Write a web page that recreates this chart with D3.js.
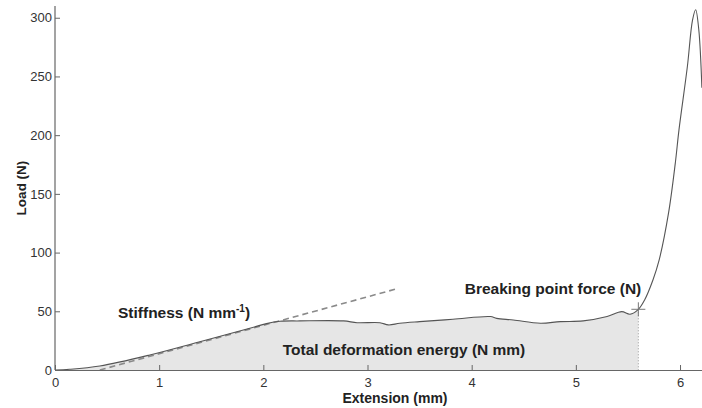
<!DOCTYPE html>
<html>
<head>
<meta charset="utf-8">
<script src="https://cdn.jsdelivr.net/npm/d3@7"></script>
<style>
  body { margin: 0; background: #fff; }
  svg { display: block; font-family: Arial, "Liberation Sans", sans-serif; }
</style>
</head>
<body>
<svg id="chart" width="702" height="408"></svg>
<script>

// load-extension curve
const extension = [0, 0.14, 0.43, 0.91, 1.39, 1.87, 2.03, 2.16, 2.35, 2.77, 2.90, 3.12, 3.20, 3.31, 3.50,
    3.82, 4.18, 4.24, 4.40, 4.66, 4.85, 5.07, 5.30, 5.44, 5.52, 5.60,
    5.66, 5.74, 5.80, 5.89, 5.955, 5.99, 6.07, 6.12, 6.15, 6.18, 6.21];
const load = [0, 0.6, 3.4, 12.8, 24.1, 35.5, 39.5, 41.5, 41.8, 41.8, 40.3, 40.3, 38.4, 39.8, 41.2,
    43.2, 45.5, 44, 42.6, 39.8, 41.2, 41.8, 45.5, 49.7, 47.5, 51.7,
    59.7, 76.7, 93.8, 133.8, 176.4, 204.5, 258, 298, 306.8, 290, 240.3];

const breakPoint = {extension: 5.60, load: 51.7};
const stiffnessLine = [{extension: 0.43, load: 0}, {extension: 3.30, load: 69.6}];

const xTicks = [0, 1, 2, 3, 4, 5, 6];
const yTicks = [0, 50, 100, 150, 200, 250, 300];

const curve = extension.map((e, i) => ({extension: e, load: load[i]}));

const svg = d3.select('#chart');
const margin = {left: 55, right: 0, top: 6, bottom: 38};
const width = 702;
const height = 408;

const x = d3.scaleLinear().domain([0, 6.211]).range([margin.left, width - margin.right]);
const y = d3.scaleLinear().domain([0, 310]).range([height - margin.bottom, margin.top]);

svg.append('defs').append('clipPath').attr('id', 'plot-clip')
    .append('rect')
    .attr('x', margin.left).attr('y', margin.top)
    .attr('width', width - margin.left).attr('height', height - margin.bottom - margin.top);

const plot = svg.append('g').attr('clip-path', 'url(#plot-clip)');

// energy area up to the breaking point
const areaData = curve.filter(d => d.extension <= breakPoint.extension);

plot.append('path')
    .datum(areaData)
    .attr('fill', '#e6e6e6')
    .attr('d', d3.area()
        .curve(d3.curveCatmullRom.alpha(0.5))
        .x(d => x(d.extension))
        .y0(y(0))
        .y1(d => y(d.load)));

plot.append('line')
    .attr('x1', x(breakPoint.extension)).attr('x2', x(breakPoint.extension))
    .attr('y1', y(breakPoint.load)).attr('y2', y(0))
    .attr('stroke', '#999')
    .attr('stroke-width', 1)
    .attr('stroke-dasharray', '1,2');

plot.append('path')
    .datum(stiffnessLine)
    .attr('fill', 'none')
    .attr('stroke', '#8a8a8a')
    .attr('stroke-width', 1.6)
    .attr('stroke-dasharray', '6,4')
    .attr('d', d3.line().x(d => x(d.extension)).y(d => y(d.load)));

plot.append('path')
    .datum(curve)
    .attr('fill', 'none')
    .attr('stroke', '#555')
    .attr('stroke-width', 1.1)
    .attr('d', d3.line()
        .curve(d3.curveCatmullRom.alpha(0.5))
        .x(d => x(d.extension))
        .y(d => y(d.load)));

// breaking point marker
const bx = x(breakPoint.extension);
const by = y(breakPoint.load);
plot.append('path')
    .attr('d', `M${bx - 7},${by}H${bx + 7}M${bx},${by - 7}V${by + 7}`)
    .attr('stroke', '#777')
    .attr('stroke-width', 1);

// axes
const xAxis = svg.append('g')
    .attr('transform', `translate(0,${y(0)})`)
    .call(d3.axisBottom(x).tickValues(xTicks).tickFormat(d3.format('d'))
        .tickSizeInner(-5).tickSizeOuter(0).tickPadding(8));

const yAxis = svg.append('g')
    .attr('transform', `translate(${x(0)},0)`)
    .call(d3.axisLeft(y).tickValues(yTicks).tickFormat(d3.format('d'))
        .tickSizeInner(-5).tickSizeOuter(0).tickPadding(3));

[xAxis, yAxis].forEach(a => {
    a.select('.domain').attr('stroke', '#666').attr('stroke-width', 1.2);
    a.selectAll('.tick line').attr('stroke', '#666');
    a.selectAll('.tick text').attr('fill', '#333').style('font-size', '13px');
});
yAxis.select('.domain').attr('d', `M0,${y(0)}V${margin.top}`);

// annotations
const bigFont = '15.5px';

svg.append('text')
    .attr('x', 118).attr('y', 318)
    .style('font-size', bigFont).style('font-weight', 'bold').attr('fill', '#222')
    .text('Stiffness (N mm')
    .append('tspan').attr('dy', -6).style('font-size', '10px').text('-1')
    .clone(true).attr('dy', 6).style('font-size', bigFont).text(')');

svg.append('text')
    .attr('x', 404).attr('y', 355)
    .attr('text-anchor', 'middle')
    .style('font-size', bigFont).style('font-weight', 'bold').attr('fill', '#222')
    .text('Total deformation energy (N mm)');

svg.append('text')
    .attr('x', 553).attr('y', 294)
    .attr('text-anchor', 'middle')
    .style('font-size', bigFont).style('font-weight', 'bold').attr('fill', '#222')
    .text('Breaking point force (N)');

svg.append('text')
    .attr('x', 395).attr('y', 403)
    .attr('text-anchor', 'middle')
    .style('font-size', '14px').style('font-weight', 'bold').attr('fill', '#222')
    .text('Extension (mm)');

svg.append('text')
    .attr('transform', `translate(26,188) rotate(-90)`)
    .attr('text-anchor', 'middle')
    .style('font-size', '13.5px').style('font-weight', 'bold').attr('fill', '#222')
    .text('Load (N)');

</script>
</body>
</html>
